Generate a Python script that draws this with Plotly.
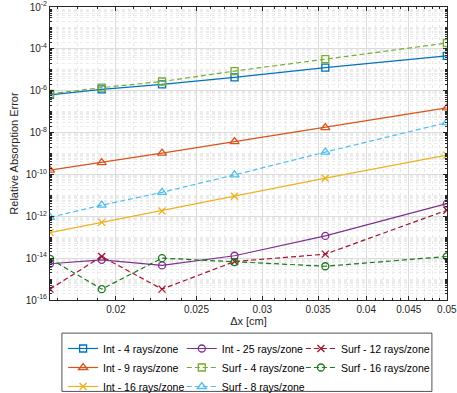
import math
import plotly.graph_objects as go

# Delta x values (cm)
dx = [1/60, 1/52, 1/44, 1/36, 1/28, 1/20]

int_4 = [6.3e-7, 1.17e-6, 2.0e-6, 4.3e-6, 1.26e-5, 4.6e-5]
int_9 = [1.6e-10, 3.7e-10, 1.05e-9, 3.7e-9, 1.74e-8, 1.5e-7]
int_16 = [1.66e-13, 5.1e-13, 1.8e-12, 9.1e-12, 6.6e-11, 8.3e-10]
int_25 = [5.4e-15, 8.3e-15, 4.5e-15, 1.3e-14, 1.15e-13, 4.0e-12]
surf_4 = [7.1e-7, 1.4e-6, 2.75e-6, 8.7e-6, 3.2e-5, 1.9e-4]
surf_8 = [8.9e-13, 3.4e-12, 1.4e-11, 9.5e-11, 1.17e-9, 3.0e-8]
surf_12 = [3.3e-16, 1.2e-14, 3.3e-16, 6.9e-15, 1.55e-14, 1.95e-12]
surf_16 = [9.3e-15, 3.3e-16, 1.0e-14, 6.5e-15, 4.1e-15, 1.2e-14]

series = [
    ("Int - 4 rays/zone", int_4, "#0072BD", "solid", "square-open", "legend"),
    ("Int - 9 rays/zone", int_9, "#D95319", "solid", "triangle-up-open", "legend"),
    ("Int - 16 rays/zone", int_16, "#EDB120", "solid", "x-thin-open", "legend"),
    ("Int - 25 rays/zone", int_25, "#7E2F8E", "solid", "circle-open", "legend2"),
    ("Surf - 4 rays/zone", surf_4, "#77AC30", "5px,3px", "square-open", "legend2"),
    ("Surf - 8 rays/zone", surf_8, "#4DBEEE", "5px,3px", "triangle-up-open", "legend2"),
    ("Surf - 12 rays/zone", surf_12, "#A2142F", "5px,3px", "x-thin-open", "legend3"),
    ("Surf - 16 rays/zone", surf_16, "#1A7A1A", "5px,3px", "circle-open", "legend3"),
]

fig = go.Figure()
for name, ys, col, dash, sym, leg in series:
    fig.add_trace(go.Scatter(
        x=dx, y=ys, name=name, mode="lines+markers", legend=leg,
        line=dict(color=col, width=1.2, dash=dash),
        marker=dict(symbol=sym, size=8 if "triangle" in sym else 7,
                    color=col, line=dict(color=col, width=1.3)),
    ))

ytickvals = [10.0**e for e in range(-16, -1, 2)]
yticktext = ["10<sup>%d</sup>" % e for e in range(-16, -1, 2)]
yminor = [k * 10.0**e for e in range(-16, -2) for k in range(1, 10)]
xtickvals = [0.02, 0.025, 0.03, 0.035, 0.04, 0.045, 0.05]
xticktext = ["0.02", "0.025", "0.03", "0.035", "0.04", "0.045", "0.05"]
xminor = [i / 1000 for i in range(17, 50)]

axis_common = dict(
    showline=True, mirror="ticks", linecolor="#262626", linewidth=1,
    ticks="inside", ticklen=4, tickcolor="#262626",
    showgrid=True, gridcolor="#DCDCDC", gridwidth=1, zeroline=False,
    tickfont=dict(family="Liberation Sans, Arial", size=10, color="#262626"),
)

leg_common = dict(
    orientation="v", yanchor="top", y=-0.116, xanchor="left",
    bgcolor="rgba(0,0,0,0)", borderwidth=0,
    font=dict(size=10.5, color="#000000"), itemwidth=30,
)

fig.update_layout(
    width=457, height=393,
    margin=dict(l=50, r=10, t=7, b=93, autoexpand=False),
    paper_bgcolor="white", plot_bgcolor="white",
    font=dict(family="Liberation Sans, Arial", size=10, color="#262626"),
    xaxis=dict(
        type="log", range=[math.log10(1/60), math.log10(0.05) + 2e-4],
        tickmode="array", tickvals=xtickvals, ticktext=xticktext,
        title=dict(text="Δx [cm]", font=dict(size=11), standoff=3),
        minor=dict(tickmode="array", tickvals=xminor, showgrid=True,
                   gridcolor="#E8E8E8", griddash="dot", ticks="inside",
                   ticklen=2, tickcolor="#262626"),
        **axis_common,
    ),
    yaxis=dict(
        type="log", range=[-16, -2],
        tickmode="array", tickvals=ytickvals, ticktext=yticktext,
        title=dict(text="Relative Absorption Error", font=dict(size=11), standoff=4),
        minor=dict(tickmode="array", tickvals=yminor, showgrid=True,
                   gridcolor="#EBEBEB", griddash="dot", ticks="inside",
                   ticklen=2, tickcolor="#262626"),
        **axis_common,
    ),
    legend=dict(x=0.033, **leg_common),
    legend2=dict(x=0.332, **leg_common),
    legend3=dict(x=0.632, **leg_common),
    showlegend=True,
    shapes=[dict(type="rect", xref="paper", yref="paper",
                 x0=0.03, x1=0.962, y0=-0.312, y1=-0.113,
                 line=dict(color="#262626", width=0.8),
                 fillcolor="white", layer="below")],
)

fig.write_html("out.html")
